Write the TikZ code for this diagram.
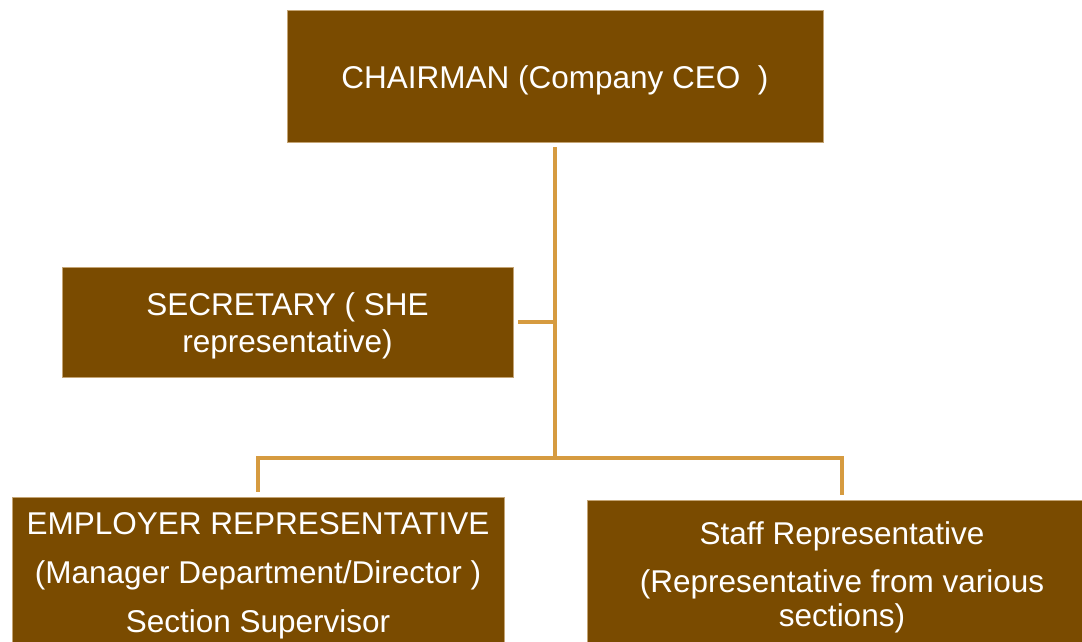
\documentclass[tikz,border=0pt]{standalone}
\usepackage{fontspec}
\setmainfont{Liberation Sans}
\definecolor{boxbrown}{RGB}{122,75,0}
\definecolor{boxedge}{RGB}{196,164,116}
\definecolor{linktan}{RGB}{214,155,64}
\tikzset{
  orgbox/.style={rectangle, fill=boxbrown, draw=boxedge, line width=0.8pt,
    text=white, align=center, inner sep=0pt,
    font=\fontsize{31.5}{37}\selectfont},
  link/.style={draw=linktan, line width=3.6pt}
}
\newcommand{\droptext}{\rule{0pt}{31pt}}
\begin{document}
\begin{tikzpicture}[x=1pt, y=-1pt]
        \useasboundingbox (0,0) rectangle (1082,641);
        \clip (0,0) rectangle (1082,641);
        \fill[white] (0,0) rectangle (1082,641);

        % boxes
        \node[orgbox, minimum width=536pt, minimum height=132pt] (chair) at (555,76)
            {\droptext CHAIRMAN (Company CEO~~)};
        \node[orgbox, minimum width=451pt, minimum height=110pt] (secy) at (287.5,322)
            {\droptext SECRETARY ( SHE\\representative)};
        \node[orgbox, minimum width=492pt, minimum height=158pt] (employer) at (258,576)
            {EMPLOYER REPRESENTATIVE\\[12pt](Manager Department/Director )\\[12pt]Section Supervisor};
        \node[orgbox, minimum width=510pt, minimum height=154pt] (staff) at (842,577)
            {Staff Representative\\[11pt](Representative from various\\[-3pt]sections)};

        % connectors
        \coordinate (split) at (chair.south |- 0,458);
        \coordinate (tosecy) at (chair.south |- secy.east);
        \draw[link, shorten <=5pt] (chair.south) -- (split);
        \draw[link, shorten <=5pt] (secy.east) -- (tosecy);
        \draw[link, shorten >=5pt] (split) -| (employer.north);
        \draw[link, shorten >=5pt] (split) -| (staff.north);
    \end{tikzpicture}
\end{document}
